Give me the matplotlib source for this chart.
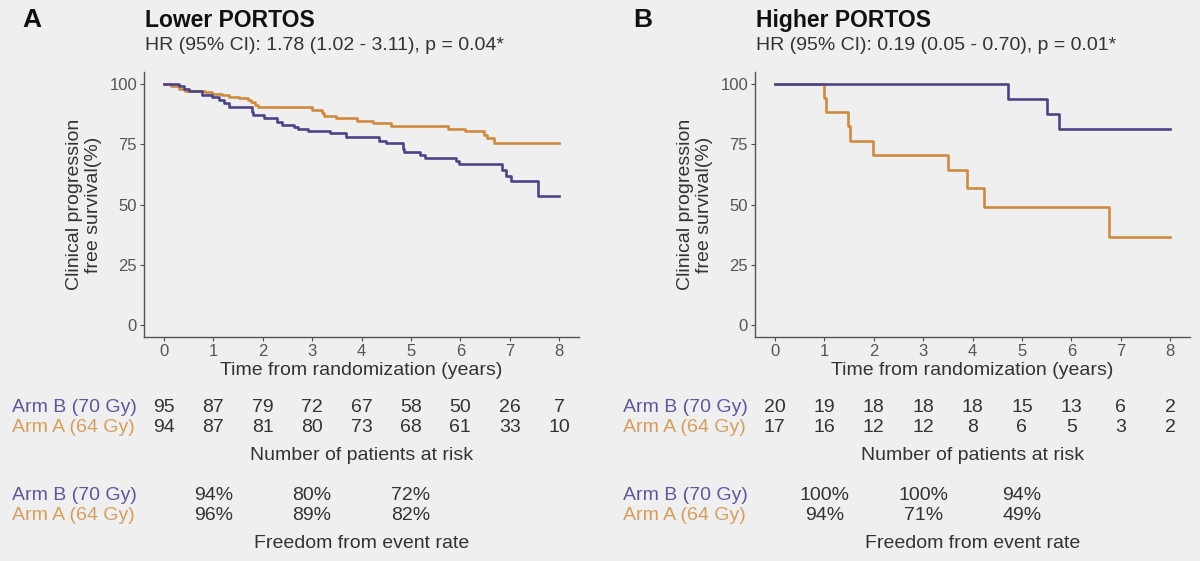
import numpy as np
import matplotlib.pyplot as plt
from matplotlib.transforms import blended_transform_factory

plt.rcParams['font.family'] = ['Liberation Sans', 'DejaVu Sans']

# Kaplan-Meier step points (time in years, survival %)
a_arm_b_t = [0, 0.31, 0.41, 0.52, 0.77, 0.97, 1.11, 1.22, 1.32, 1.78, 1.81, 2.02, 2.3, 2.4,
             2.64, 2.71, 2.92, 3.37, 3.69, 4.35, 4.49, 4.83, 4.86, 5.18, 5.29, 5.91, 5.98,
             6.85, 6.92, 7.03, 7.58, 8.0]
a_arm_b_s = [100, 99, 98, 97, 95.5, 94.5, 93.5, 92, 90.5, 88.5, 87.2, 86, 84.3, 82.8,
             82, 81.3, 80.6, 79.5, 78, 76.5, 75.5, 73, 71.8, 70.5, 69.2, 68, 66.7,
             64.5, 62, 59.8, 53.6, 53.6]
a_arm_a_t = [0, 0.14, 0.31, 0.42, 0.83, 0.97, 1.18, 1.32, 1.53, 1.7, 1.77, 1.84, 1.91,
             2.99, 3.2, 3.25, 3.48, 3.9, 4.24, 4.6, 5.74, 6.09, 6.47, 6.54, 6.68, 8.0]
a_arm_a_s = [100, 99, 98, 97, 96.5, 95.9, 95.3, 94.8, 94.2, 93.4, 92.4, 91.4, 90.3,
             89.2, 87.9, 86.9, 85.8, 84.8, 83.7, 82.5, 81.4, 80.4, 79.0, 77.7, 75.5, 75.5]

b_arm_b_t = [0, 4.72, 5.51, 5.75, 8.0]
b_arm_b_s = [100, 93.75, 87.5, 81.25, 81.25]
b_arm_a_t = [0, 0.99, 1.03, 1.48, 1.52, 1.99, 3.51, 3.88, 4.24, 6.77, 8.0]
b_arm_a_s = [100, 94.1, 88.2, 82.4, 76.5, 70.6, 64.2, 57.0, 49.0, 36.7, 36.7]

risk_years = [0, 1, 2, 3, 4, 5, 6, 7, 8]
a_risk_b = [95, 87, 79, 72, 67, 58, 50, 26, 7]
a_risk_a = [94, 87, 81, 80, 73, 68, 61, 33, 10]
b_risk_b = [20, 19, 18, 18, 18, 15, 13, 6, 2]
b_risk_a = [17, 16, 12, 12, 8, 6, 5, 3, 2]

free_years = [1, 3, 5]
a_free_b = ['94%', '80%', '72%']
a_free_a = ['96%', '89%', '82%']
b_free_b = ['100%', '100%', '94%']
b_free_a = ['94%', '71%', '49%']

panels = [
    dict(letter='A', title='Lower PORTOS',
         sub='HR (95% CI): 1.78 (1.02 - 3.11), p = 0.04*',
         curves=[(a_arm_a_t, a_arm_a_s), (a_arm_b_t, a_arm_b_s)],
         risk=(a_risk_b, a_risk_a), free=(a_free_b, a_free_a)),
    dict(letter='B', title='Higher PORTOS',
         sub='HR (95% CI): 0.19 (0.05 - 0.70), p = 0.01*',
         curves=[(b_arm_a_t, b_arm_a_s), (b_arm_b_t, b_arm_b_s)],
         risk=(b_risk_b, b_risk_a), free=(b_free_b, b_free_a)),
]

bg = '#efefef'
purple = '#4b4587'
orange = '#d08a40'
lab_purple = '#5d5899'
lab_orange = '#d69e5c'
txt = '#333333'

W, H = 1200, 561
fig = plt.figure(figsize=(12, 5.61), dpi=100, facecolor=bg)

# axes boxes in pixels: left, top, right, bottom
boxes = [(144, 72, 579, 337), (755, 72, 1190, 337)]


def fx(px):
    return px / W


def fy(py):
    return 1 - py / H


for p, box in zip(panels, boxes):
    l, t, r, b = box
    ax = fig.add_axes([fx(l), fy(b), fx(r) - fx(l), fy(t) - fy(b)])
    ax.set_facecolor(bg)
    for (tt, ss), c in zip(p['curves'], [orange, purple]):
        ax.step(tt, ss, where='post', color=c, lw=1.9)
    ax.set_xlim(-0.4, 8.4)
    ax.set_ylim(-5, 105)
    ax.set_xticks(range(9))
    ax.set_yticks([0, 25, 50, 75, 100])
    ax.tick_params(colors='#4d4d4d', labelsize=12, length=3, labelcolor='#555555', pad=2)
    for s in ['top', 'right']:
        ax.spines[s].set_visible(False)
    for s in ['left', 'bottom']:
        ax.spines[s].set_color('#555555')
        ax.spines[s].set_linewidth(1.0)
    ax.set_xlabel('Time from randomization (years)', fontsize=14, color=txt, labelpad=2)
    ax.set_ylabel('Clinical progression\nfree survival(%)', fontsize=14, color=txt,
                  labelpad=5, linespacing=1.2)

    # letter, title, subtitle
    fig.text(fx(l - 122), fy(27), p['letter'], fontsize=19, fontweight='bold',
             color='#111111', va='baseline')
    fig.text(fx(l + 1), fy(27), p['title'], fontsize=16.5, fontweight='bold',
             color='#111111', va='baseline')
    fig.text(fx(l + 1), fy(50), p['sub'], fontsize=14, color=txt, va='baseline')

    # tables below the plot, columns follow the axis time scale
    tr = blended_transform_factory(ax.transData, fig.transFigure)
    lab_x = -3.08
    rb, ra = p['risk']
    fig.text(lab_x, fy(407), 'Arm B (70 Gy)', fontsize=14, color=lab_purple,
             va='center', transform=tr)
    fig.text(lab_x, fy(427), 'Arm A (64 Gy)', fontsize=14, color=lab_orange,
             va='center', transform=tr)
    for yr, vb, va_ in zip(risk_years, rb, ra):
        fig.text(yr, fy(407), str(vb), fontsize=14, color=txt,
                 ha='center', va='center', transform=tr)
        fig.text(yr, fy(427), str(va_), fontsize=14, color=txt,
                 ha='center', va='center', transform=tr)
    fig.text(4, fy(455), 'Number of patients at risk', fontsize=14,
             color=txt, ha='center', va='center', transform=tr)

    fb, fa = p['free']
    fig.text(lab_x, fy(496), 'Arm B (70 Gy)', fontsize=14, color=lab_purple,
             va='center', transform=tr)
    fig.text(lab_x, fy(515), 'Arm A (64 Gy)', fontsize=14, color=lab_orange,
             va='center', transform=tr)
    for yr, vb, va_ in zip(free_years, fb, fa):
        fig.text(yr, fy(496), vb, fontsize=14, color=txt, ha='center', va='center',
                 transform=tr)
        fig.text(yr, fy(515), va_, fontsize=14, color=txt, ha='center', va='center',
                 transform=tr)
    fig.text(4, fy(543), 'Freedom from event rate', fontsize=14,
             color=txt, ha='center', va='center', transform=tr)

fig.savefig('out.png', dpi=100, facecolor=bg)
